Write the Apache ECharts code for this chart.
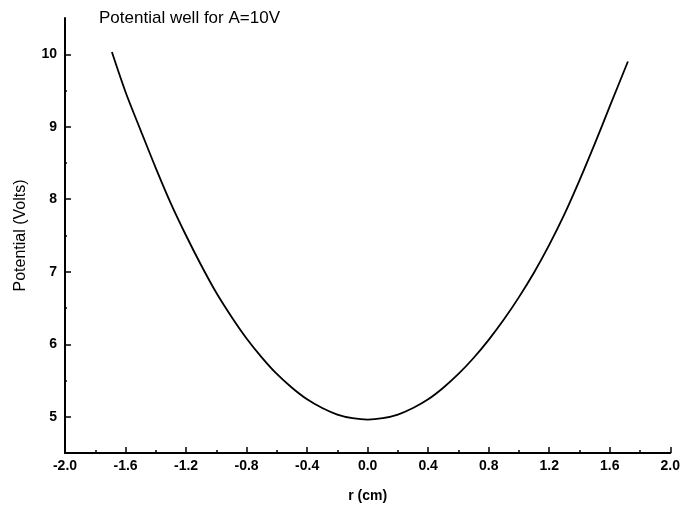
<!DOCTYPE html>
<html>
<head>
<meta charset="utf-8">
<script src="https://cdn.jsdelivr.net/npm/echarts@6/dist/echarts.min.js"></script>
<style>
  html, body { margin: 0; padding: 0; background: #fff; }
  #chart { width: 683px; height: 508px; }
</style>
</head>
<body>
<div id="chart"></div>
<script>
// Radius (cm) and the potential in volts at each radius
var radiusCm = [-1.69, -1.6, -1.5, -1.4, -1.3, -1.2, -1.1, -1.0, -0.9, -0.8,
                -0.7, -0.6, -0.5, -0.4, -0.3, -0.2, -0.1, 0.0, 0.1, 0.2,
                0.3, 0.4, 0.5, 0.6, 0.7, 0.8, 0.9, 1.0, 1.1, 1.2,
                1.3, 1.4, 1.5, 1.6, 1.72];
var potentialV = [10.03, 9.48, 8.95, 8.43, 7.94, 7.50, 7.09, 6.71, 6.38, 6.08,
                  5.82, 5.59, 5.40, 5.24, 5.12, 5.03, 4.98, 4.96, 4.98, 5.03,
                  5.12, 5.24, 5.40, 5.59, 5.81, 6.06, 6.34, 6.65, 6.99, 7.37,
                  7.79, 8.26, 8.76, 9.28, 9.90];

// Axis tick values
var yMajorTicks = [5, 6, 7, 8, 9, 10];
var yMinorTicks = [5.5, 6.5, 7.5, 8.5, 9.5];

var titleText = 'Potential well for A=10V';
var xName = 'r (cm)';
var yName = 'Potential (Volts)';

var points = radiusCm.map(function (r, i) { return [r, potentialV[i]]; });

var font = "'Liberation Sans', Arial, sans-serif";
var chart = echarts.init(document.getElementById('chart'), null, { renderer: 'canvas' });

chart.setOption({
  animation: false,
  backgroundColor: '#fff',
  title: {
    text: titleText,
    left: 94,
    top: 5,
    textStyle: { fontFamily: font, fontSize: 17, fontWeight: 'normal', color: '#000' }
  },
  grid: { left: 65, right: 11, top: 18, bottom: 54, containLabel: false },
  xAxis: {
    type: 'value',
    min: -2,
    max: 2,
    interval: 0.4,
    name: xName,
    nameLocation: 'middle',
    nameGap: 36,
    nameTextStyle: { fontFamily: font, fontSize: 14, fontWeight: 'bold', color: '#000' },
    axisLine: { show: true, onZero: false, lineStyle: { color: '#000', width: 2 } },
    axisTick: { show: true, inside: true, length: 6, lineStyle: { color: '#000', width: 1.5 } },
    minorTick: { show: true, splitNumber: 2, length: 3, lineStyle: { color: '#000', width: 1.5 } },
    axisLabel: {
      margin: 6,
      fontFamily: font, fontSize: 14, fontWeight: 'bold', color: '#000',
      formatter: function (v) { return v.toFixed(1); }
    },
    splitLine: { show: false },
    minorSplitLine: { show: false }
  },
  yAxis: [
    {
      type: 'value',
      min: 4.5,
      max: 10.5,
      interval: 0.5,
      name: yName,
      nameLocation: 'middle',
      nameGap: 36,
      nameRotate: 90,
      nameTextStyle: { fontFamily: font, fontSize: 16, fontWeight: 'normal', color: '#000' },
      axisLine: { show: true, onZero: false, lineStyle: { color: '#000', width: 2 } },
      axisTick: { show: true, inside: true, length: 6, customValues: yMajorTicks,
                  lineStyle: { color: '#000', width: 1.5 } },
      axisLabel: { customValues: yMajorTicks, margin: 8,
                   fontFamily: font, fontSize: 14, fontWeight: 'bold', color: '#000' },
      splitLine: { show: false }
    },
    {
      // half-volt minor ticks on the same left edge
      type: 'value',
      min: 4.5,
      max: 10.5,
      interval: 0.5,
      position: 'left',
      axisLine: { show: false, onZero: false },
      axisTick: { show: true, inside: true, length: 2, customValues: yMinorTicks,
                  lineStyle: { color: '#000', width: 1.5 } },
      axisLabel: { show: false },
      splitLine: { show: false }
    }
  ],
  series: [{
    type: 'line',
    data: points,
    xAxisIndex: 0,
    yAxisIndex: 0,
    smooth: 0.3,
    showSymbol: false,
    lineStyle: { color: '#000', width: 1.8 }
  }]
});
</script>
</body>
</html>
